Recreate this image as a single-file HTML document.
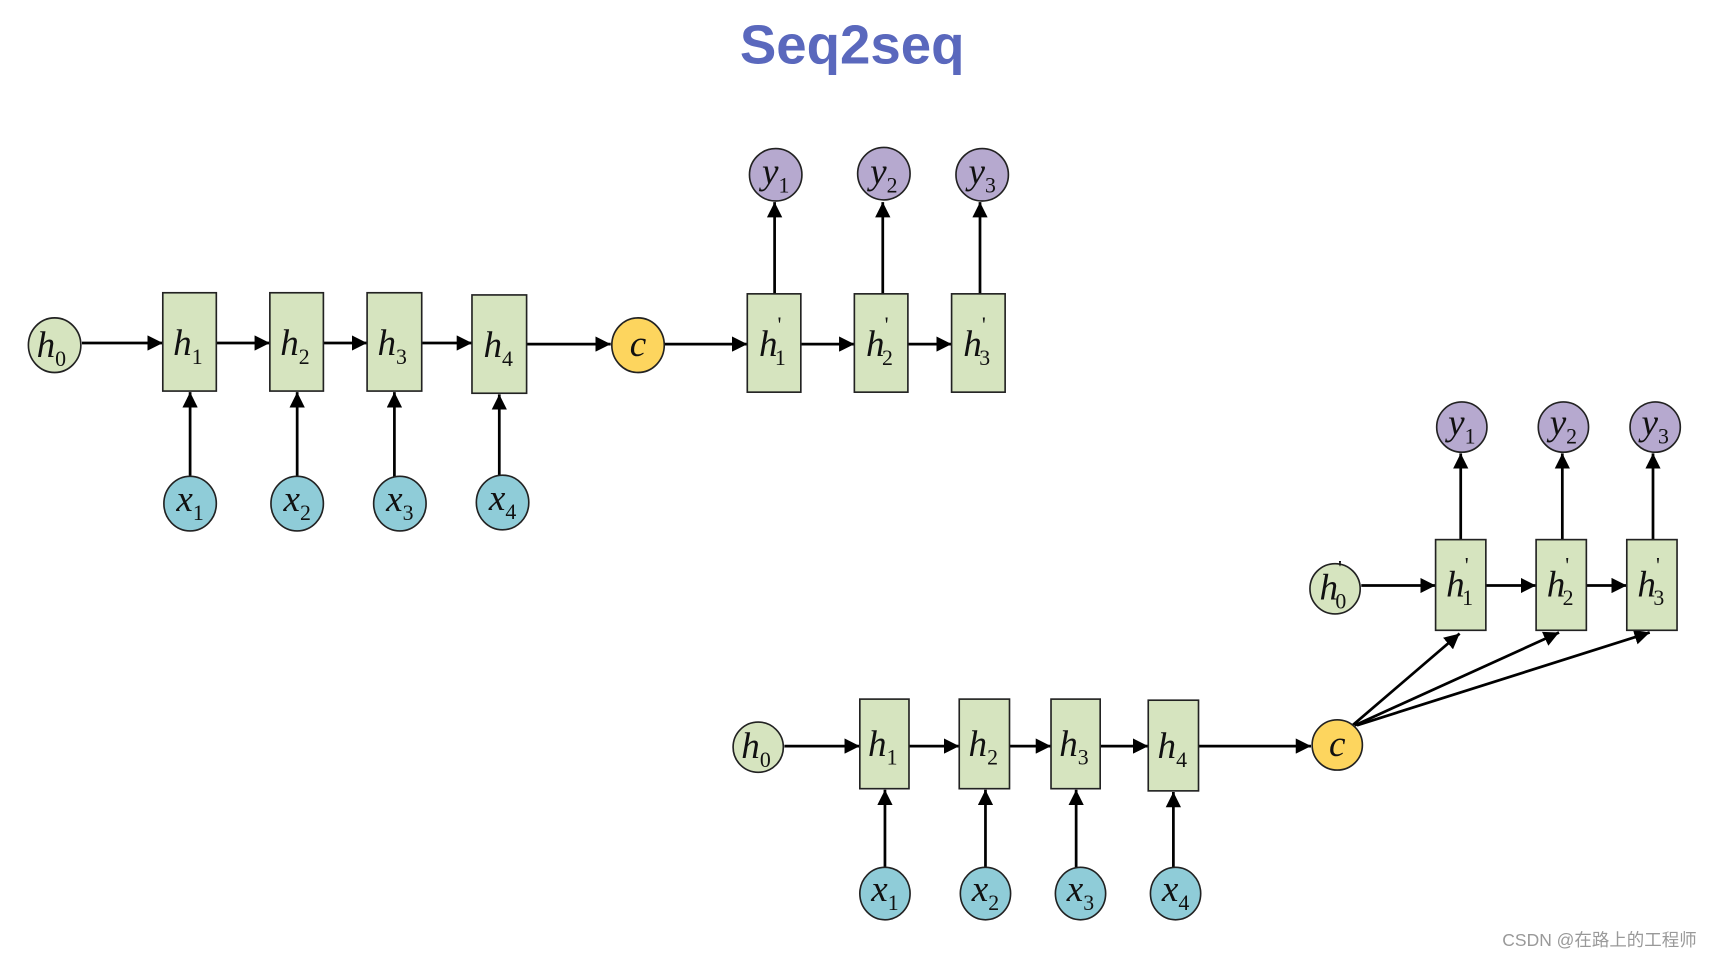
<!DOCTYPE html>
<html><head><meta charset="utf-8"><style>
html,body{margin:0;padding:0;background:#fff;}
svg{display:block;}
.t{font-family:"Liberation Serif",serif;font-style:italic;font-size:34px;text-anchor:middle;}
.s{font-size:20px;font-style:normal;}
</style></head><body>
<svg width="1712" height="958" viewBox="0 0 1567 877" preserveAspectRatio="none" xmlns="http://www.w3.org/2000/svg">
<defs><marker id="a" viewBox="0 0 10 10" refX="10" refY="5" markerWidth="14" markerHeight="14" markerUnits="userSpaceOnUse" orient="auto"><path d="M0,0L10,5L0,10z" fill="#000"/></marker></defs>
<text x="780" y="58" text-anchor="middle" font-family="Liberation Sans,sans-serif" font-weight="bold" font-size="50" fill="#5a68bd">Seq2seq</text>
<g stroke="#000" stroke-width="2.5" fill="none" marker-end="url(#a)">
<line x1="75" y1="314" x2="149" y2="314"/><line x1="198" y1="314" x2="247" y2="314"/><line x1="296" y1="314" x2="336" y2="314"/><line x1="386" y1="314" x2="432" y2="314"/><line x1="482" y1="315" x2="559" y2="315"/><line x1="608" y1="315" x2="684" y2="315"/><line x1="733" y1="315" x2="782" y2="315"/><line x1="831" y1="315" x2="871" y2="315"/>
<line x1="174" y1="437" x2="174" y2="359"/><line x1="272" y1="437" x2="272" y2="359"/><line x1="361" y1="437" x2="361" y2="359"/><line x1="457" y1="437" x2="457" y2="361"/>
<line x1="709" y1="269" x2="709" y2="185"/><line x1="808" y1="269" x2="808" y2="185"/><line x1="897" y1="269" x2="897" y2="185"/>
<line x1="718" y1="683" x2="787" y2="683"/><line x1="832" y1="683" x2="878" y2="683"/><line x1="924" y1="683" x2="962" y2="683"/><line x1="1007" y1="683" x2="1051" y2="683"/><line x1="1097" y1="683" x2="1200" y2="683"/>
<line x1="810" y1="795" x2="810" y2="723"/><line x1="902" y1="795" x2="902" y2="723"/><line x1="985" y1="795" x2="985" y2="723"/><line x1="1074" y1="795" x2="1074" y2="725"/>
<line x1="1246" y1="536" x2="1314" y2="536"/><line x1="1360" y1="536" x2="1406" y2="536"/><line x1="1452" y1="536" x2="1489" y2="536"/>
<line x1="1337" y1="494" x2="1337" y2="415"/><line x1="1430" y1="494" x2="1430" y2="415"/><line x1="1513" y1="494" x2="1513" y2="415"/>
<line x1="1238" y1="664" x2="1336" y2="580"/><line x1="1240" y1="664" x2="1427" y2="579"/><line x1="1242" y1="664" x2="1510" y2="579"/>
</g>
<g stroke="#222" stroke-width="1.5">
<g fill="#d6e4bf">
<rect x="149" y="268" width="49" height="90"/><rect x="247" y="268" width="49" height="90"/><rect x="336" y="268" width="50" height="90"/><rect x="432" y="270" width="50" height="90"/>
<rect x="684" y="269" width="49" height="90"/><rect x="782" y="269" width="49" height="90"/><rect x="871" y="269" width="49" height="90"/>
<rect x="787" y="640" width="45" height="82"/><rect x="878" y="640" width="46" height="82"/><rect x="962" y="640" width="45" height="82"/><rect x="1051" y="641" width="46" height="83"/>
<rect x="1314" y="494" width="46" height="83"/><rect x="1406" y="494" width="46" height="83"/><rect x="1489" y="494" width="46" height="83"/>
<ellipse cx="50" cy="316" rx="24" ry="25"/><ellipse cx="694" cy="684" rx="23" ry="23"/><ellipse cx="1222" cy="539" rx="23" ry="23"/>
</g>
<g fill="#fdd55e"><ellipse cx="584" cy="316" rx="24" ry="25"/><ellipse cx="1224" cy="682" rx="23" ry="23"/></g>
<g fill="#b6a9cf"><ellipse cx="710" cy="160" rx="24" ry="24"/><ellipse cx="809" cy="159" rx="24" ry="24"/><ellipse cx="899" cy="160" rx="24" ry="24"/>
<ellipse cx="1338" cy="391" rx="23" ry="23"/><ellipse cx="1431" cy="391" rx="23" ry="23"/><ellipse cx="1515" cy="391" rx="23" ry="23"/></g>
<g fill="#8fccd8"><ellipse cx="174" cy="461" rx="24" ry="25"/><ellipse cx="272" cy="461" rx="24" ry="25"/><ellipse cx="366" cy="461" rx="24" ry="25"/><ellipse cx="460" cy="460" rx="24" ry="25"/>
<ellipse cx="810" cy="818" rx="23" ry="24"/><ellipse cx="902" cy="818" rx="23" ry="24"/><ellipse cx="989" cy="818" rx="23" ry="24"/><ellipse cx="1076" cy="818" rx="23" ry="24"/></g>
</g>
<g class="t" fill="#111">
<text x="47" y="327">h<tspan class="s" dy="8">0</tspan></text>
<text x="172" y="325">h<tspan class="s" dy="8">1</tspan></text>
<text x="270" y="325">h<tspan class="s" dy="8">2</tspan></text>
<text x="359" y="325">h<tspan class="s" dy="8">3</tspan></text>
<text x="456" y="327">h<tspan class="s" dy="8">4</tspan></text>
<text x="584" y="326">c</text>
<text x="707" y="326">h<tspan class="s" dy="-22">'</tspan><tspan class="s" dx="-6" dy="30">1</tspan></text>
<text x="805" y="326">h<tspan class="s" dy="-22">'</tspan><tspan class="s" dx="-6" dy="30">2</tspan></text>
<text x="894" y="326">h<tspan class="s" dy="-22">'</tspan><tspan class="s" dx="-6" dy="30">3</tspan></text>
<text x="710" y="168">y<tspan class="s" dy="8">1</tspan></text>
<text x="809" y="168">y<tspan class="s" dy="8">2</tspan></text>
<text x="899" y="168">y<tspan class="s" dy="8">3</tspan></text>
<text x="174" y="468">x<tspan class="s" dy="8">1</tspan></text>
<text x="272" y="468">x<tspan class="s" dy="8">2</tspan></text>
<text x="366" y="468">x<tspan class="s" dy="8">3</tspan></text>
<text x="460" y="467">x<tspan class="s" dy="8">4</tspan></text>
<text x="692" y="694">h<tspan class="s" dy="8">0</tspan></text>
<text x="808" y="692">h<tspan class="s" dy="8">1</tspan></text>
<text x="900" y="692">h<tspan class="s" dy="8">2</tspan></text>
<text x="983" y="692">h<tspan class="s" dy="8">3</tspan></text>
<text x="1073" y="694">h<tspan class="s" dy="8">4</tspan></text>
<text x="1224" y="692">c</text>
<text x="1220" y="549">h<tspan class="s" dy="-22">'</tspan><tspan class="s" dx="-6" dy="30">0</tspan></text>
<text x="1336" y="546">h<tspan class="s" dy="-22">'</tspan><tspan class="s" dx="-6" dy="30">1</tspan></text>
<text x="1428" y="546">h<tspan class="s" dy="-22">'</tspan><tspan class="s" dx="-6" dy="30">2</tspan></text>
<text x="1511" y="546">h<tspan class="s" dy="-22">'</tspan><tspan class="s" dx="-6" dy="30">3</tspan></text>
<text x="1338" y="398">y<tspan class="s" dy="8">1</tspan></text>
<text x="1431" y="398">y<tspan class="s" dy="8">2</tspan></text>
<text x="1515" y="398">y<tspan class="s" dy="8">3</tspan></text>
<text x="810" y="825">x<tspan class="s" dy="8">1</tspan></text>
<text x="902" y="825">x<tspan class="s" dy="8">2</tspan></text>
<text x="989" y="825">x<tspan class="s" dy="8">3</tspan></text>
<text x="1076" y="825">x<tspan class="s" dy="8">4</tspan></text>
</g>
<text x="1553" y="866" text-anchor="end" font-family="Liberation Sans,Noto Sans CJK SC,sans-serif" font-size="16" fill="#999">CSDN @在路上的工程师</text>
</svg>
</body></html>
